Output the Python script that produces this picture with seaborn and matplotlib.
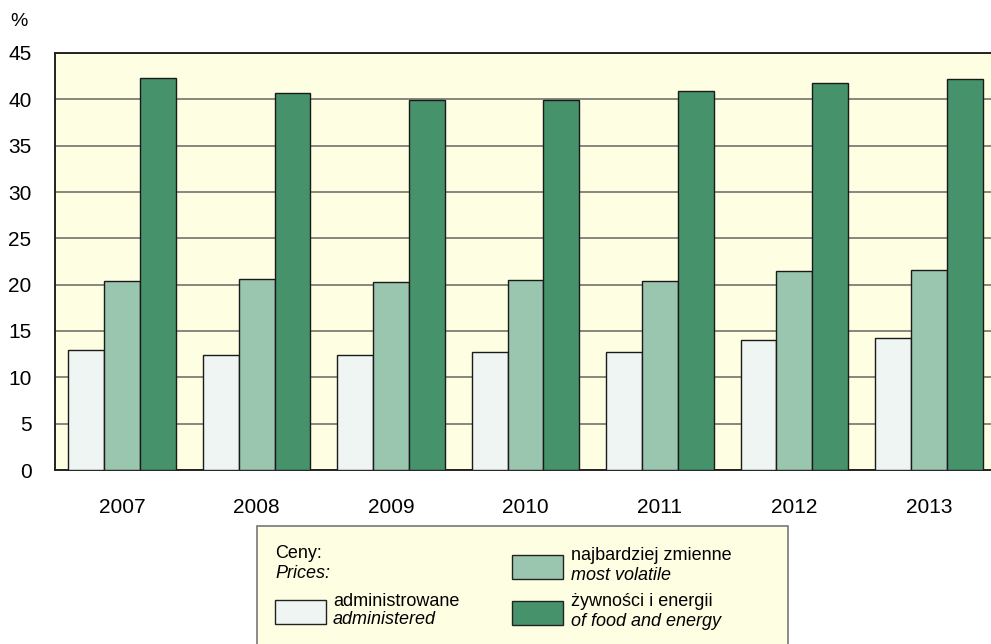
import pandas as pd
import matplotlib
matplotlib.use('Agg')
import matplotlib.pyplot as plt
import seaborn as sns
from matplotlib.patches import Rectangle

# data
years = ['2007', '2008', '2009', '2010', '2011', '2012', '2013']
administered = [13.0, 12.4, 12.4, 12.75, 12.7, 14.0, 14.2]
most_volatile = [20.4, 20.6, 20.3, 20.5, 20.4, 21.5, 21.6]
food_energy = [42.3, 40.7, 39.9, 39.9, 40.9, 41.8, 42.2]

series_keys = ['admin', 'volatile', 'food']
series_pl = ['administrowane', 'najbardziej zmienne', 'żywności i energii']
series_en = ['administered', 'most volatile', 'of food and energy']
colors = ['#EEF5F2', '#9AC5AE', '#45926B']
bg = '#FEFEE3'

df = pd.DataFrame({'year': years * 3,
                   'series': [k for k in series_keys for _ in years],
                   'value': administered + most_volatile + food_energy})

sns.set_style('white')
plt.rcParams['font.family'] = ['Liberation Sans', 'DejaVu Sans']
plt.rcParams['text.color'] = 'black'
plt.rcParams['xtick.color'] = 'black'
plt.rcParams['ytick.color'] = 'black'

fig = plt.figure(figsize=(9.91, 6.44), dpi=100)
ax = fig.add_axes([55 / 991, 1 - 470 / 644, (996 - 55) / 991, (470 - 53) / 644])
ax.set_facecolor(bg)

sns.barplot(data=df, x='year', y='value', hue='series', hue_order=series_keys,
            palette=colors, saturation=1, edgecolor='#1a1a1a', linewidth=1.0, ax=ax,
            legend=False, zorder=3, errorbar=None)

ax.set_ylim(0, 45)
ax.set_xlim(-0.5, len(years) - 0.5)
ax.set_yticks(range(0, 46, 5))
ax.yaxis.grid(True, color='#7d7d75', linewidth=1.3, zorder=0)
ax.set_axisbelow(True)

# boundaries between groups get tick marks, labels sit at group centres
ax.set_xticks([i - 0.5 for i in range(len(years) + 1)])
ax.set_xticklabels([])
ax.set_xticks(range(len(years)), minor=True)
ax.set_xticklabels(years, minor=True, fontsize=15)
ax.tick_params(axis='x', which='major', length=7, width=1.2, color='#333333', direction='out')
ax.tick_params(axis='x', which='minor', length=0, pad=20)
ax.tick_params(axis='y', length=0, pad=17, labelsize=15)
ax.set_xlabel('')
ax.set_ylabel('')

for side in ['left', 'top', 'bottom']:
    ax.spines[side].set_color('#222222')
    ax.spines[side].set_linewidth(1.4)
ax.spines['right'].set_visible(False)

fig.text(10 / 991, 1 - 21 / 644, '%', fontsize=14, va='center', ha='left')

# legend box drawn by hand
def fx(px):
    return px / 991

def fy(py):
    return 1 - py / 644

fig.patches.append(Rectangle((fx(257), -0.01), fx(788) - fx(257), fy(526) + 0.01,
                             transform=fig.transFigure, facecolor=bg,
                             edgecolor='#777777', linewidth=1.2, zorder=1))

fs = 13
fig.text(fx(275), fy(553), 'Ceny:', fontsize=fs, va='center', zorder=2)
fig.text(fx(275), fy(573), 'Prices:', fontsize=fs, va='center', style='italic', zorder=2)

swatches = [(275, 600, 333), (512, 555, 571), (512, 601, 571)]
for (sx, sy, tx), col, pl, en in zip(swatches, colors, series_pl, series_en):
    fig.patches.append(Rectangle((fx(sx), fy(sy + 24)), fx(51), 24 / 644,
                                 transform=fig.transFigure, facecolor=col,
                                 edgecolor='#222222', linewidth=1.0, zorder=2))
    fig.text(fx(tx), fy(sy + 1), pl, fontsize=fs, va='center', zorder=2)
    fig.text(fx(tx), fy(sy + 20), en, fontsize=fs, va='center', style='italic', zorder=2)

fig.savefig('out.png', dpi=100, facecolor='white')
